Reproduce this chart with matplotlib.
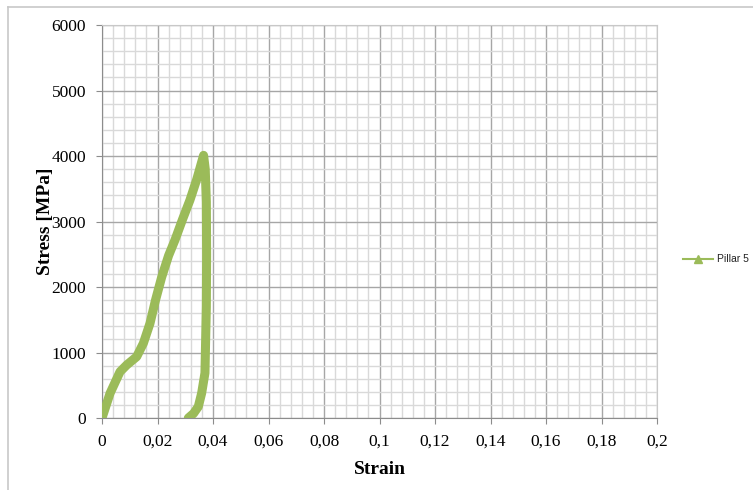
import matplotlib.pyplot as plt
from matplotlib.lines import Line2D
from matplotlib.ticker import MultipleLocator, FuncFormatter

# Pillar 5 stress-strain curve (loading then unloading)
strain = [0.0, 0.0029, 0.0065, 0.0089, 0.0125, 0.0149, 0.0173, 0.0193,
          0.0215, 0.0240, 0.0263, 0.0290, 0.0317, 0.0342, 0.0366,
          0.0372, 0.0376, 0.0377, 0.0376, 0.0371, 0.0359, 0.0347, 0.0330, 0.0311]
stress = [0, 377, 707, 809, 936, 1140, 1446, 1802,
          2150, 2480, 2718, 3030, 3328, 3650, 4010,
          3800, 3300, 2500, 1700, 687, 377, 173, 70, 0]

series_name = "Pillar 5"
x_ticks = [0, 0.02, 0.04, 0.06, 0.08, 0.1, 0.12, 0.14, 0.16, 0.18, 0.2]
y_ticks = [0, 1000, 2000, 3000, 4000, 5000, 6000]

green = "#9BBB59"
serif = "Liberation Serif"

fig = plt.figure(figsize=(7.53, 4.90), dpi=100)
ax = fig.add_axes([102 / 753, 1 - 418 / 490, 555 / 753, 393 / 490])

ax.plot(strain, stress, color=green, lw=6.5, solid_capstyle="round",
        solid_joinstyle="round", zorder=3)

ax.set_xlim(0, 0.2)
ax.set_ylim(0, 6000)
ax.set_xticks(x_ticks)
ax.set_yticks(y_ticks)
ax.xaxis.set_minor_locator(MultipleLocator(0.004))
ax.yaxis.set_minor_locator(MultipleLocator(200))


def comma_fmt(v, _pos):
    s = f"{v:.2f}".rstrip("0").rstrip(".")
    return s.replace(".", ",")


ax.xaxis.set_major_formatter(FuncFormatter(comma_fmt))
ax.yaxis.set_major_formatter(FuncFormatter(lambda v, p: f"{int(v)}"))

ax.grid(which="major", color="#a6a6a6", lw=1.0, zorder=1)
ax.grid(which="minor", color="#d9d9d9", lw=1.0, zorder=0)
ax.set_axisbelow(True)

for side in ("top", "right"):
    ax.spines[side].set_color("#c8c8c8")
for side in ("left", "bottom"):
    ax.spines[side].set_color("#8c8c8c")

ax.tick_params(which="major", direction="out", length=4.5, color="#8c8c8c",
               labelsize=12.5)
ax.tick_params(axis="y", which="major", pad=7)
ax.tick_params(axis="x", which="major", pad=7)
ax.tick_params(which="minor", length=0)
for lab in ax.get_xticklabels() + ax.get_yticklabels():
    lab.set_fontfamily(serif)

ax.set_xlabel("Strain", fontfamily=serif, fontweight="bold", fontsize=14, labelpad=8)
ax.set_ylabel("Stress [MPa]", fontfamily=serif, fontweight="bold", fontsize=14, labelpad=-2)

# legend entry: short line with a triangle marker, then the series name
ly = 1 - 259 / 490
fig.add_artist(Line2D([683 / 753, 713 / 753], [ly, ly], transform=fig.transFigure,
                      color=green, lw=1.5))
fig.add_artist(Line2D([698 / 753], [ly], transform=fig.transFigure, color=green,
                      marker="^", markersize=6, markerfacecolor=green,
                      markeredgecolor=green, lw=0))
fig.text(717 / 753, ly, series_name, fontfamily="Liberation Sans", fontsize=7.5,
         va="center", ha="left", color="#222222")

# chart-area border (top and left edges)
fig.add_artist(Line2D([8 / 753, 8 / 753], [0, 1 - 7 / 490],
                      transform=fig.transFigure, color="#c8c8c8", lw=1.2))
fig.add_artist(Line2D([8 / 753, 1], [1 - 7 / 490, 1 - 7 / 490],
                      transform=fig.transFigure, color="#c8c8c8", lw=1.2))

fig.savefig("out.png", dpi=100)
